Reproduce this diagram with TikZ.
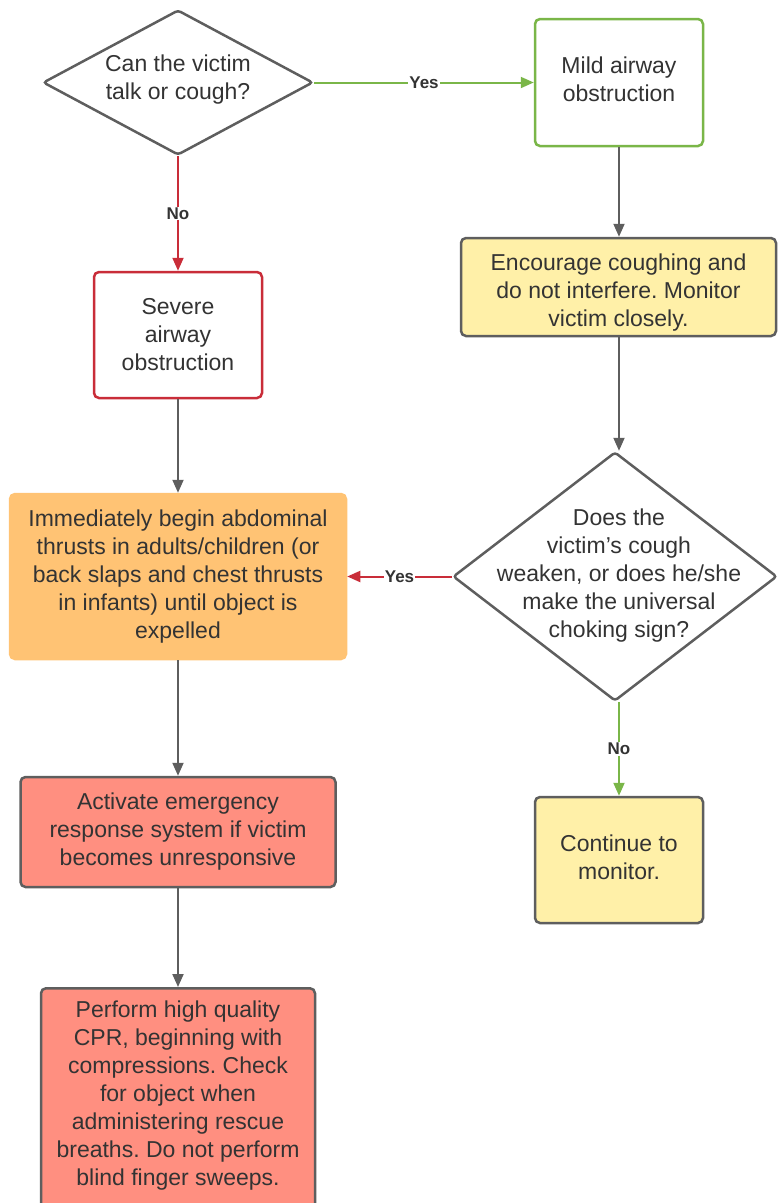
\documentclass[tikz,border=0pt]{standalone}
\usepackage{fontspec}
\setmainfont{Liberation Sans}
\usetikzlibrary{shapes.geometric,arrows.meta}
\definecolor{txt}{HTML}{333333}
\definecolor{bord}{HTML}{5E5E5E}
\definecolor{grn}{HTML}{7AB648}
\definecolor{rd}{HTML}{C92D39}
\definecolor{ylw}{HTML}{FFF0A8}
\definecolor{org}{HTML}{FFC374}
\definecolor{sal}{HTML}{FF8F80}
\frenchspacing
\tikzset{
  box/.style={draw=bord, line width=2.5pt, rounded corners=5pt, text=txt, align=center, inner sep=0pt,
    font=\fontsize{23}{28}\selectfont},
  dia/.style={draw=bord, line width=2.5pt, diamond, inner sep=0pt, rounded corners=3pt},
  dtext/.style={text=txt, align=center, font=\fontsize{23}{28}\selectfont},
  arr/.style={line width=2pt, draw=bord, -{Triangle[length=13pt,width=11pt]}},
  lbl/.style={fill=white, text=txt, inner sep=1pt, font=\bfseries\fontsize{17}{19}\selectfont},
}
\begin{document}
\begin{tikzpicture}[x=1pt,y=-1pt]
\useasboundingbox (0,0) rectangle (777,1203);
% diamonds
\node[dia, minimum width=270pt, minimum height=145pt] (d1) at (178,82.5) {};
\node[dtext] (d1t) at (178,80) {Can the victim\\talk or cough?};
\node[dia, minimum width=324pt, minimum height=249pt] (d2) at (615,576.5) {};
\node[dtext] (d2t) at (619,576) {Does the\\victim's cough\\weaken, or does he/she\\make the universal\\choking sign?};
% boxes
\node[box, draw=grn, fill=white, minimum width=168pt, minimum height=127pt] (mild) at (619,82.5) {};
\node[dtext] (mildt) at (619,79.5) {Mild airway\\obstruction};
\node[box, fill=ylw, minimum width=315pt, minimum height=98pt] (enc) at (618.5,287) {};
\node[dtext] (enct) at (618.5,293) {Encourage coughing and\\do not interfere. Monitor\\victim closely.};
\node[box, draw=rd, fill=white, minimum width=168pt, minimum height=126pt] (sev) at (178,335) {Severe\\airway\\obstruction};
\node[box, draw=org, fill=org, minimum width=336pt, minimum height=165pt] (imm) at (178,576.5) {Immediately begin abdominal\\thrusts in adults/children (or\\back slaps and chest thrusts\\in infants) until object is\\expelled};
\node[box, fill=sal, minimum width=315pt, minimum height=110pt] (act) at (178,832) {Activate emergency\\response system if victim\\becomes unresponsive};
\node[box, fill=ylw, minimum width=168pt, minimum height=126pt] (cont) at (619,860) {};
\node[dtext] (contt) at (619,857) {Continue to\\monitor.};
\node[box, fill=sal, minimum width=274pt, minimum height=240pt, anchor=north] (cpr) at (178,987) {};
\node[dtext, anchor=north] (cprt) at (178,997) {Perform high quality\\CPR, beginning with\\compressions. Check\\for object when\\administering rescue\\breaths. Do not perform\\blind finger sweeps.};
% connectors
\draw[arr, draw=grn, -{Triangle[length=13pt,width=11pt,fill=grn]}] (d1.east) -- node[lbl]{Yes} (mild.west);
\draw[arr, draw=rd] (d1.south) -- node[lbl]{No} (sev.north);
\draw[arr] (mild.south) -- (enc.north -| mild.south);
\draw[arr] (enc.south -| mild.south) -- (d2.north -| mild.south);
\draw[arr] (sev.south) -- (imm.north);
\draw[arr, draw=rd] (d2.west) -- node[lbl]{Yes} (imm.east);
\draw[arr, draw=grn] (d2.south -| mild.south) -- node[lbl]{No} (cont.north);
\draw[arr] (imm.south) -- (act.north);
\draw[arr] (act.south) -- (cpr.north);
\end{tikzpicture}
\end{document}
